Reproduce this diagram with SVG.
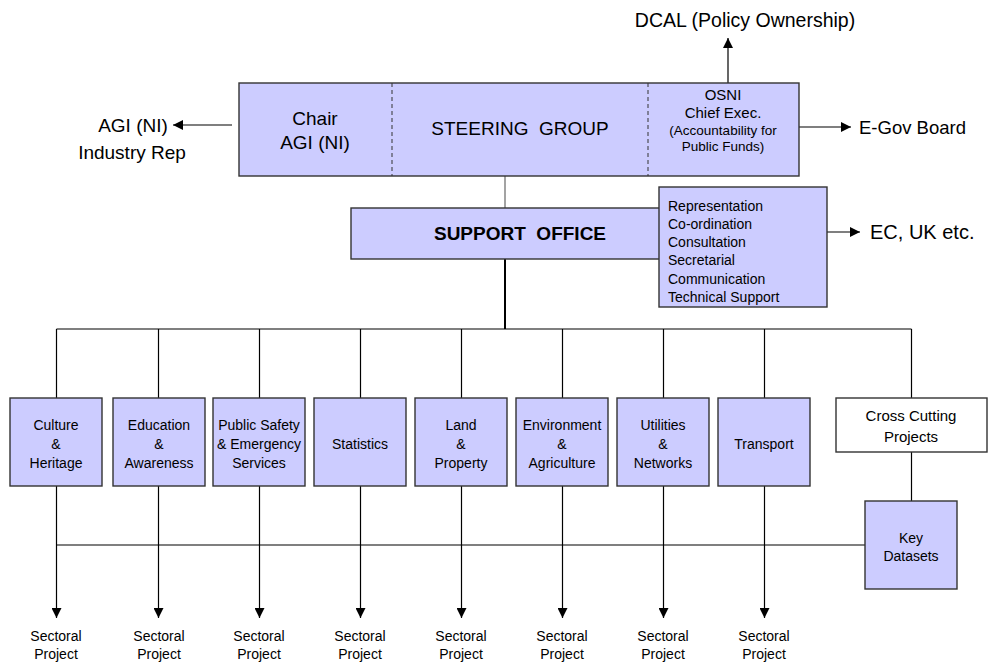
<svg xmlns="http://www.w3.org/2000/svg" width="992" height="662" viewBox="0 0 992 662">
<defs>
<style>
text{font-family:"Liberation Sans",Arial,sans-serif;fill:#000}
.box{fill:#ccccff;stroke:#333;stroke-width:1.4}
.wbox{fill:#fff;stroke:#333;stroke-width:1.4}
.ln{stroke:#000;stroke-width:1.2;fill:none}
.big{font-size:19px}
.mid{font-size:15px}
.sm{font-size:14px}
.xs{font-size:13.5px}
.c{text-anchor:middle}
</style>
<marker id="ah" markerUnits="userSpaceOnUse" markerWidth="10" markerHeight="10" refX="10" refY="5" orient="auto">
<path d="M0,0 L10,5 L0,10 z" fill="#000"/>
</marker>
</defs>
<rect width="992" height="662" fill="#fff"/>

<g id="connectors">
<line class="ln" x1="232" y1="125" x2="173" y2="125" marker-end="url(#ah)"/>
<line class="ln" x1="799" y1="127" x2="851" y2="127" marker-end="url(#ah)"/>
<line class="ln" x1="728" y1="83" x2="728" y2="38" marker-end="url(#ah)"/>
<line class="ln" x1="827" y1="232" x2="860" y2="232" marker-end="url(#ah)"/>
<line x1="505" y1="176" x2="505" y2="208" stroke="#666" stroke-width="1.2"/>
<line x1="505" y1="259" x2="505" y2="329" stroke="#000" stroke-width="2"/>
<line class="ln" x1="56.5" y1="329" x2="911.5" y2="329"/>
<line class="ln" x1="56.5" y1="329" x2="56.5" y2="398"/>
<line class="ln" x1="158.5" y1="329" x2="158.5" y2="398"/>
<line class="ln" x1="259.5" y1="329" x2="259.5" y2="398"/>
<line class="ln" x1="360.5" y1="329" x2="360.5" y2="398"/>
<line class="ln" x1="461.5" y1="329" x2="461.5" y2="398"/>
<line class="ln" x1="562.5" y1="329" x2="562.5" y2="398"/>
<line class="ln" x1="663.5" y1="329" x2="663.5" y2="398"/>
<line class="ln" x1="764.5" y1="329" x2="764.5" y2="398"/>
<line class="ln" x1="911.5" y1="329" x2="911.5" y2="398"/>
<line class="ln" x1="911.5" y1="452" x2="911.5" y2="501"/>
<line class="ln" x1="56.5" y1="545" x2="865" y2="545"/>
<line class="ln" x1="56.5" y1="486" x2="56.5" y2="618" marker-end="url(#ah)"/>
<line class="ln" x1="158.5" y1="486" x2="158.5" y2="618" marker-end="url(#ah)"/>
<line class="ln" x1="259.5" y1="486" x2="259.5" y2="618" marker-end="url(#ah)"/>
<line class="ln" x1="360.5" y1="486" x2="360.5" y2="618" marker-end="url(#ah)"/>
<line class="ln" x1="461.5" y1="486" x2="461.5" y2="618" marker-end="url(#ah)"/>
<line class="ln" x1="562.5" y1="486" x2="562.5" y2="618" marker-end="url(#ah)"/>
<line class="ln" x1="663.5" y1="486" x2="663.5" y2="618" marker-end="url(#ah)"/>
<line class="ln" x1="764.5" y1="486" x2="764.5" y2="618" marker-end="url(#ah)"/>
</g>

<g id="dcal"><text class="big c" x="745" y="27" style="font-size:19.5px">DCAL (Policy Ownership)</text></g>
<g id="agi"><text class="big c" x="133" y="132">AGI (NI)</text><text class="big c" x="132" y="159">Industry Rep</text></g>
<g id="egov"><text x="859" y="134" font-size="18.5">E-Gov Board</text></g>
<g id="ec"><text x="870" y="239" font-size="20">EC, UK etc.</text></g>

<g id="steering">
<rect class="box" x="239" y="83" width="560" height="93"/>
<line x1="392" y1="83" x2="392" y2="176" stroke="#333" stroke-width="1" stroke-dasharray="4,3"/>
<line x1="648" y1="83" x2="648" y2="176" stroke="#333" stroke-width="1" stroke-dasharray="4,3"/>
<text class="big c" x="315" y="125">Chair</text>
<text class="big c" x="315" y="149">AGI (NI)</text>
<text class="big c" x="520" y="135">STEERING&#160; GROUP</text>
<text class="mid c" x="723" y="100">OSNI</text>
<text class="mid c" x="723" y="118">Chief Exec.</text>
<text class="xs c" x="723" y="135">(Accountability for</text>
<text class="xs c" x="723" y="151">Public Funds)</text>
</g>

<g id="support">
<rect class="box" x="351" y="208" width="314" height="51"/>
<text class="big c" x="520" y="240" font-weight="bold">SUPPORT&#160; OFFICE</text>
</g>

<g id="roles">
<rect class="box" x="659" y="187" width="168" height="120"/>
<text class="sm" x="668" y="211">Representation</text>
<text class="sm" x="668" y="229">Co-ordination</text>
<text class="sm" x="668" y="247">Consultation</text>
<text class="sm" x="668" y="265">Secretarial</text>
<text class="sm" x="668" y="284">Communication</text>
<text class="sm" x="668" y="302">Technical Support</text>
</g>

<g id="culture"><rect class="box" x="10" y="398" width="92" height="88"/>
<text class="sm c" x="56" y="430">Culture</text><text class="sm c" x="56" y="449">&amp;</text><text class="sm c" x="56" y="468">Heritage</text></g>
<g id="education"><rect class="box" x="113" y="398" width="92" height="88"/>
<text class="sm c" x="159" y="430">Education</text><text class="sm c" x="159" y="449">&amp;</text><text class="sm c" x="159" y="468">Awareness</text></g>
<g id="safety"><rect class="box" x="213" y="398" width="92" height="88"/>
<text class="sm c" x="259" y="430">Public Safety</text><text class="sm c" x="259" y="449">&amp; Emergency</text><text class="sm c" x="259" y="468">Services</text></g>
<g id="statistics"><rect class="box" x="314" y="398" width="92" height="88"/>
<text class="sm c" x="360" y="449">Statistics</text></g>
<g id="land"><rect class="box" x="415" y="398" width="92" height="88"/>
<text class="sm c" x="461" y="430">Land</text><text class="sm c" x="461" y="449">&amp;</text><text class="sm c" x="461" y="468">Property</text></g>
<g id="environment"><rect class="box" x="516" y="398" width="92" height="88"/>
<text class="sm c" x="562" y="430">Environment</text><text class="sm c" x="562" y="449">&amp;</text><text class="sm c" x="562" y="468">Agriculture</text></g>
<g id="utilities"><rect class="box" x="617" y="398" width="92" height="88"/>
<text class="sm c" x="663" y="430">Utilities</text><text class="sm c" x="663" y="449">&amp;</text><text class="sm c" x="663" y="468">Networks</text></g>
<g id="transport"><rect class="box" x="718" y="398" width="92" height="88"/>
<text class="sm c" x="764" y="449">Transport</text></g>
<g id="crosscutting"><rect class="wbox" x="836" y="398" width="151" height="54"/>
<text class="mid c" x="911" y="421">Cross Cutting</text><text class="mid c" x="911" y="442">Projects</text></g>
<g id="keydatasets"><rect class="box" x="865" y="501" width="92" height="88"/>
<text class="sm c" x="911" y="543">Key</text><text class="sm c" x="911" y="561">Datasets</text></g>

<g id="sectoral">
<text class="sm c" x="56" y="641">Sectoral</text><text class="sm c" x="56" y="659">Project</text>
<text class="sm c" x="159" y="641">Sectoral</text><text class="sm c" x="159" y="659">Project</text>
<text class="sm c" x="259" y="641">Sectoral</text><text class="sm c" x="259" y="659">Project</text>
<text class="sm c" x="360" y="641">Sectoral</text><text class="sm c" x="360" y="659">Project</text>
<text class="sm c" x="461" y="641">Sectoral</text><text class="sm c" x="461" y="659">Project</text>
<text class="sm c" x="562" y="641">Sectoral</text><text class="sm c" x="562" y="659">Project</text>
<text class="sm c" x="663" y="641">Sectoral</text><text class="sm c" x="663" y="659">Project</text>
<text class="sm c" x="764" y="641">Sectoral</text><text class="sm c" x="764" y="659">Project</text>
</g>
</svg>
